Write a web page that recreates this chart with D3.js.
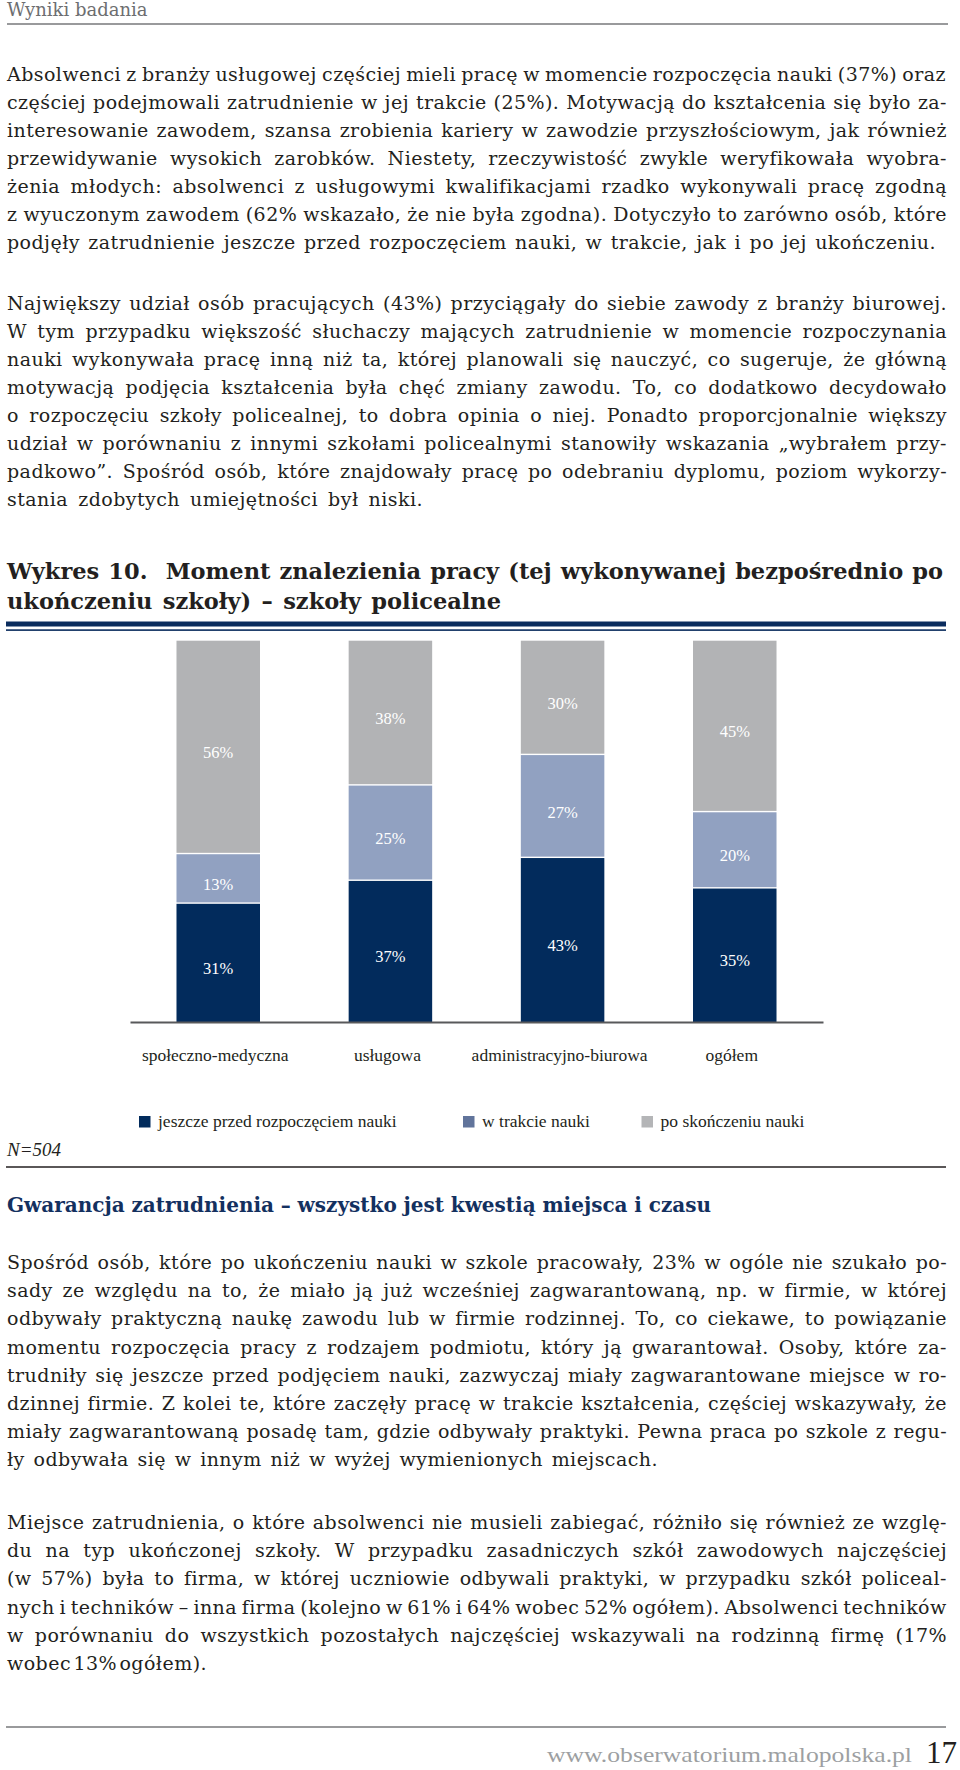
<!DOCTYPE html>
<html><head><meta charset="utf-8">
<script src="https://cdn.jsdelivr.net/npm/d3@7"></script>
<style>html,body{margin:0;padding:0;background:#fff;} svg{display:block;}</style>
</head><body><svg id="page" width="960" height="1770"></svg>
<script>
// ---------- chart data ----------
const categories = ["społeczno-medyczna", "usługowa", "administracyjno-biurowa", "ogółem"];
const seriesNames = ["jeszcze przed rozpoczęciem nauki", "w trakcie nauki", "po skończeniu nauki"];
const beforeStart = [31, 37, 43, 35];
const duringStudy = [13, 25, 27, 20];
const afterGraduation = [56, 38, 30, 45];
const sampleNote = "N=504";
const chartTitle = ["Wykres 10.  Moment znalezienia pracy (tej wykonywanej bezpośrednio po", "ukończeniu szkoły) – szkoły policealne"];

// ---------- page text ----------
const headerText = "Wyniki badania";
const para1 = [
 "Absolwenci z branży usługowej częściej mieli pracę w momencie rozpoczęcia nauki (37%) oraz",
 "częściej podejmowali zatrudnienie w jej trakcie (25%). Motywacją do kształcenia się było za-",
 "interesowanie zawodem, szansa zrobienia kariery w zawodzie przyszłościowym, jak również",
 "przewidywanie wysokich zarobków. Niestety, rzeczywistość zwykle weryfikowała wyobra-",
 "żenia młodych: absolwenci z usługowymi kwalifikacjami rzadko wykonywali pracę zgodną",
 "z wyuczonym zawodem (62% wskazało, że nie była zgodna). Dotyczyło to zarówno osób, które",
 "podjęły zatrudnienie jeszcze przed rozpoczęciem nauki, w trakcie, jak i po jej ukończeniu."
];
const para2 = [
 "Największy udział osób pracujących (43%) przyciągały do siebie zawody z branży biurowej.",
 "W tym przypadku większość słuchaczy mających zatrudnienie w momencie rozpoczynania",
 "nauki wykonywała pracę inną niż ta, której planowali się nauczyć, co sugeruje, że główną",
 "motywacją podjęcia kształcenia była chęć zmiany zawodu. To, co dodatkowo decydowało",
 "o rozpoczęciu szkoły policealnej, to dobra opinia o niej. Ponadto proporcjonalnie większy",
 "udział w porównaniu z innymi szkołami policealnymi stanowiły wskazania „wybrałem przy-",
 "padkowo”. Spośród osób, które znajdowały pracę po odebraniu dyplomu, poziom wykorzy-",
 "stania zdobytych umiejętności był niski."
];
const heading2 = "Gwarancja zatrudnienia – wszystko jest kwestią miejsca i czasu";
const para3 = [
 "Spośród osób, które po ukończeniu nauki w szkole pracowały, 23% w ogóle nie szukało po-",
 "sady ze względu na to, że miało ją już wcześniej zagwarantowaną, np. w firmie, w której",
 "odbywały praktyczną naukę zawodu lub w firmie rodzinnej. To, co ciekawe, to powiązanie",
 "momentu rozpoczęcia pracy z rodzajem podmiotu, który ją gwarantował. Osoby, które za-",
 "trudniły się jeszcze przed podjęciem nauki, zazwyczaj miały zagwarantowane miejsce w ro-",
 "dzinnej firmie. Z kolei te, które zaczęły pracę w trakcie kształcenia, częściej wskazywały, że",
 "miały zagwarantowaną posadę tam, gdzie odbywały praktyki. Pewna praca po szkole z regu-",
 "ły odbywała się w innym niż w wyżej wymienionych miejscach."
];
const para4 = [
 "Miejsce zatrudnienia, o które absolwenci nie musieli zabiegać, różniło się również ze wzglę-",
 "du na typ ukończonej szkoły. W przypadku zasadniczych szkół zawodowych najczęściej",
 "(w 57%) była to firma, w której uczniowie odbywali praktyki, w przypadku szkół policeal-",
 "nych i techników – inna firma (kolejno w 61% i 64% wobec 52% ogółem). Absolwenci techników",
 "w porównaniu do wszystkich pozostałych najczęściej wskazywali na rodzinną firmę (17%",
 "wobec 13% ogółem)."
];
const footerUrl = "www.obserwatorium.malopolska.pl";
const pageNumber = "17";

// ---------- drawing ----------
const svg = d3.select("#page");
svg.append("rect").attr("width", 960).attr("height", 1770).attr("fill", "#fff");

const BODY_FONT = "'DejaVu Serif', serif";
const CHART_FONT = "'Liberation Serif', 'Times New Roman', serif";
const LEFT = 7, RIGHT = 947;

function justifyText(sel, width) {
  const txt = sel.text();
  const spaces = (txt.match(/ /g) || []).length;
  if (!spaces) return;
  let ws = 0;
  for (let k = 0; k < 3; k++) {
    const w = sel.node().getBBox().width;
    ws += (width - w) / spaces;
    sel.attr("word-spacing", ws.toFixed(3));
  }
}

function paragraph(lines, y0, step, lastWidth) {
  lines.forEach((ln, i) => {
    const t = svg.append("text")
      .attr("x", LEFT).attr("y", y0 + i * step)
      .attr("font-family", BODY_FONT).attr("font-size", 19)
      .attr("letter-spacing", 0.45)
      .attr("fill", "#231f20").text(ln);
    if (i < lines.length - 1) justifyText(t, RIGHT - LEFT);
    else if (lastWidth) justifyText(t, lastWidth);
  });
}

// header
svg.append("text").attr("x", LEFT).attr("y", 16)
  .attr("font-family", BODY_FONT).attr("font-size", 18).attr("fill", "#6d6e70").text(headerText);
svg.append("line").attr("x1", 7).attr("x2", 948).attr("y1", 24).attr("y2", 24)
  .attr("stroke", "#77787b").attr("stroke-width", 1.3);

paragraph(para1, 81, 28, 929);
paragraph(para2, 309.5, 28, 416);

// chart title
chartTitle.forEach((ln, i) => {
  const t = svg.append("text").attr("x", LEFT).attr("y", 579 + i * 30)
    .attr("font-family", BODY_FONT).attr("font-size", 22.5).attr("font-weight", "bold")
    .attr("fill", "#231f20").style("white-space", "pre").text(ln);
  justifyText(t, i === 0 ? 937 : 494);
});

// decorative double rule above chart
svg.append("rect").attr("x", 6).attr("y", 621.5).attr("width", 940).attr("height", 5).attr("fill", "#0b2d5e");
svg.append("rect").attr("x", 6).attr("y", 629.3).attr("width", 940).attr("height", 1.6).attr("fill", "#0b2d5e");

// scales
const x = d3.scaleBand().domain(categories).range([130, 823]).paddingInner(0.515).paddingOuter(0.27);
const y = d3.scaleLinear().domain([0, 100]).range([1022, 640.7]);
const colors = ["#022b5c", "#91a1c1", "#b2b3b5"];
const legendColors = ["#022b5c", "#61749b", "#b4b5b7"];

const rows = categories.map((c, i) => ({cat: c, s0: beforeStart[i], s1: duringStudy[i], s2: afterGraduation[i]}));
const stack = d3.stack().keys(["s0", "s1", "s2"])(rows);

const gBars = svg.append("g");
stack.forEach((layer, li) => {
  layer.forEach(d => {
    const yTop = y(d[1]), yBot = y(d[0]);
    gBars.append("rect")
      .attr("x", x(d.data.cat)).attr("width", x.bandwidth())
      .attr("y", yTop).attr("height", Math.max(0, yBot - yTop - (li > 0 ? 1.4 : 0)))
      .attr("fill", colors[li]);
    gBars.append("text")
      .attr("x", x(d.data.cat) + x.bandwidth() / 2)
      .attr("y", (yTop + yBot) / 2 + 11)
      .attr("text-anchor", "middle")
      .attr("font-family", CHART_FONT).attr("font-size", 16.5)
      .attr("fill", "#ffffff").text((d[1] - d[0]) + "%");
  });
});

// x axis
const axis = svg.append("g").attr("transform", "translate(0,1022)")
  .call(d3.axisBottom(x).tickSize(0).tickSizeOuter(0).tickPadding(0));
axis.select(".domain").attr("stroke", "#58595b").attr("stroke-width", 2);
axis.selectAll(".tick text")
  .attr("y", 39).attr("dy", null).attr("dx", -3)
  .attr("font-family", CHART_FONT).attr("font-size", 17.5).attr("fill", "#231f20");

// legend
const legendX = [139, 463, 641.5];
seriesNames.forEach((s, i) => {
  svg.append("rect").attr("x", legendX[i]).attr("y", 1116).attr("width", 11.5).attr("height", 11.5)
    .attr("fill", legendColors[i]);
  svg.append("text").attr("x", legendX[i] + 19).attr("y", 1127)
    .attr("font-family", CHART_FONT).attr("font-size", 17.5).attr("fill", "#231f20").text(s);
});

svg.append("text").attr("x", LEFT).attr("y", 1156)
  .attr("font-family", CHART_FONT).attr("font-size", 19).attr("font-style", "italic")
  .attr("fill", "#231f20").text(sampleNote);
svg.append("line").attr("x1", 6).attr("x2", 946).attr("y1", 1167).attr("y2", 1167)
  .attr("stroke", "#231f20").attr("stroke-width", 1.5);

// section heading
const h2 = svg.append("text").attr("x", LEFT).attr("y", 1212)
  .attr("font-family", BODY_FONT).attr("font-size", 20).attr("font-weight", "bold")
  .attr("fill", "#13305f").text(heading2);
justifyText(h2, 704);

paragraph(para3, 1269, 28.2, 651);
paragraph(para4, 1529, 28.2, 200);

// footer
svg.append("line").attr("x1", 6).attr("x2", 946).attr("y1", 1727).attr("y2", 1727)
  .attr("stroke", "#77787b").attr("stroke-width", 1.3);
svg.append("text").attr("x", 547).attr("y", 1762)
  .attr("font-family", CHART_FONT).attr("font-size", 22).attr("fill", "#9d9fa2")
  .attr("textLength", 365).attr("lengthAdjust", "spacingAndGlyphs").text(footerUrl);
svg.append("text").attr("x", 957).attr("y", 1763).attr("text-anchor", "end")
  .attr("font-family", CHART_FONT).attr("font-size", 31).attr("fill", "#231f20").text(pageNumber);
</script>
</body></html>
